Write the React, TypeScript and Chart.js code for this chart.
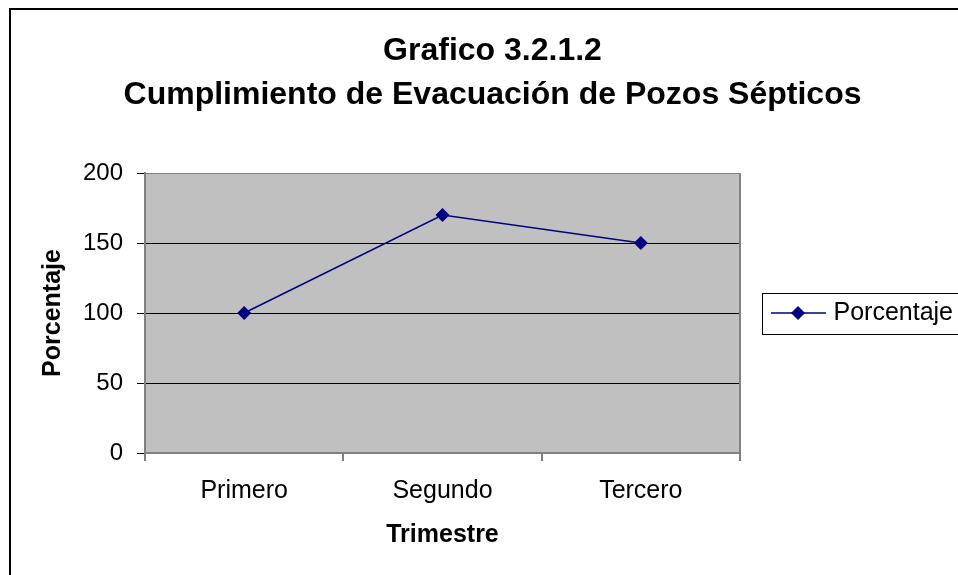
import React, { useEffect, useRef } from "react";
import { Chart, registerables } from "chart.js";
Chart.register(...registerables);

const titleLines = ["Grafico 3.2.1.2", "Cumplimiento de Evacuación de Pozos Sépticos"];
const categories = ["Primero", "Segundo", "Tercero"];
const seriesLabel = "Porcentaje";
const seriesValues = [100, 170, 150];
const yTicks = [0, 50, 100, 150, 200];
const yAxisTitle = "Porcentaje";
const xAxisTitle = "Trimestre";

const FONT = "'Liberation Sans', Arial, Helvetica, sans-serif";
const NAVY = "#000080";
const W = 980;
const H = 600;

function makeMarker() {
  const c = document.createElement("canvas");
  c.width = 60;
  c.height = 16;
  const g = c.getContext("2d")!;
  g.strokeStyle = NAVY;
  g.lineWidth = 1.5;
  g.beginPath();
  g.moveTo(5, 8);
  g.lineTo(60, 8);
  g.stroke();
  g.fillStyle = NAVY;
  g.beginPath();
  g.moveTo(32, 1);
  g.lineTo(39, 8);
  g.lineTo(32, 15);
  g.lineTo(25, 8);
  g.closePath();
  g.fill();
  return c;
}

const decor = {
  id: "decor",
  beforeDraw(chart: any) {
    const { ctx, chartArea: a } = chart;
    ctx.save();
    ctx.fillStyle = "#ffffff";
    ctx.fillRect(0, 0, chart.width, chart.height);
    ctx.fillStyle = "#c0c0c0";
    ctx.fillRect(a.left, a.top, a.right - a.left, a.bottom - a.top);
    ctx.strokeStyle = "#000000";
    ctx.lineWidth = 2;
    ctx.strokeRect(10, 9, chart.width + 50, chart.height + 50);
    ctx.restore();
  },
  beforeDatasetsDraw(chart: any) {
    const { ctx, chartArea: a } = chart;
    ctx.save();
    ctx.strokeStyle = "#808080";
    ctx.lineWidth = 2;
    ctx.beginPath();
    ctx.moveTo(a.right, a.top);
    ctx.lineTo(a.right, a.bottom);
    ctx.stroke();
    ctx.restore();
  },
  afterDraw(chart: any) {
    const lg = chart.legend;
    if (!lg || !lg.legendHitBoxes || !lg.legendHitBoxes.length) return;
    const hb = lg.legendHitBoxes[0];
    const { ctx } = chart;
    ctx.save();
    ctx.strokeStyle = "#000000";
    ctx.lineWidth = 1;
    const cy = hb.top + hb.height / 2;
    ctx.strokeRect(Math.round(hb.left - 9) + 0.5, Math.round(cy - 20.5) + 0.5, hb.width + 60, 41);
    ctx.restore();
  },
};

export default function App() {
  const ref = useRef<HTMLCanvasElement | null>(null);
  useEffect(() => {
    document.documentElement.style.overflow = "hidden";
    document.body.style.overflow = "hidden";
    const marker = makeMarker();
    const chart = new Chart(ref.current!, {
      type: "line",
      data: {
        labels: categories,
        datasets: [
          {
            label: seriesLabel,
            data: seriesValues,
            borderColor: NAVY,
            backgroundColor: NAVY,
            borderWidth: 1.5,
            pointStyle: "rectRot",
            pointRadius: 7,
            pointHoverRadius: 7,
            pointBackgroundColor: NAVY,
            pointBorderColor: NAVY,
            pointBorderWidth: 0,
            tension: 0,
            fill: false,
          },
        ],
      },
      options: {
        responsive: false,
        animation: false,
        events: [],
        layout: { padding: { left: 22, right: 17, top: 0, bottom: 47 } },
        plugins: {
          tooltip: { enabled: false },
          title: {
            display: true,
            text: titleLines,
            color: "#000000",
            font: { family: FONT, size: 32, weight: "bold", lineHeight: 1.375 },
            padding: { top: 29, bottom: 56 },
          },
          legend: {
            display: true,
            position: "right",
            fullSize: false,
            labels: {
              color: "#000000",
              font: { family: FONT, size: 25 },
              padding: 31,
              usePointStyle: true,
              pointStyleWidth: 50,
              generateLabels: (ch: any) =>
                ch.data.datasets.map((ds: any, i: number) => ({
                  text: ds.label,
                  pointStyle: marker,
                  fillStyle: NAVY,
                  strokeStyle: NAVY,
                  lineWidth: 0,
                  hidden: false,
                  datasetIndex: i,
                  fontColor: "#000000",
                })),
            },
          },
        },
        scales: {
          x: {
            type: "category",
            offset: true,
            afterFit: (s: any) => {
              s.height = 100;
            },
            border: { display: true, color: "#808080", width: 2 },
            grid: {
              display: true,
              offset: true,
              drawOnChartArea: false,
              drawTicks: true,
              tickLength: 8,
              color: "#808080",
              tickColor: "#808080",
              lineWidth: 2,
            },
            ticks: {
              color: "#000000",
              font: { family: FONT, size: 25 },
              padding: 15,
              maxRotation: 0,
            },
            title: {
              display: true,
              text: xAxisTitle,
              color: "#000000",
              font: { family: FONT, size: 25, weight: "bold" },
              padding: { top: 0, bottom: 3 },
            },
          },
          y: {
            min: yTicks[0],
            max: yTicks[yTicks.length - 1],
            afterFit: (s: any) => {
              s.width = 123;
            },
            border: { display: true, color: "#808080", width: 2 },
            grid: {
              display: true,
              drawTicks: true,
              tickLength: 8,
              color: (c: any) =>
                c.tick && c.tick.value === yTicks[yTicks.length - 1] ? "#808080" : "#000000",
              tickColor: "#000000",
              lineWidth: 1,
            },
            ticks: {
              stepSize: yTicks[1] - yTicks[0],
              color: "#000000",
              font: { family: FONT, size: 24 },
              padding: 14,
            },
            title: {
              display: true,
              text: yAxisTitle,
              color: "#000000",
              font: { family: FONT, size: 25, weight: "bold" },
              padding: { top: 16, bottom: 0 },
            },
          },
        },
      },
      plugins: [decor],
    });
    return () => chart.destroy();
  }, []);
  return (
    <canvas
      ref={ref}
      width={W}
      height={H}
      style={{ position: "fixed", left: 0, top: 0, width: W, height: H, display: "block" }}
    />
  );
}
